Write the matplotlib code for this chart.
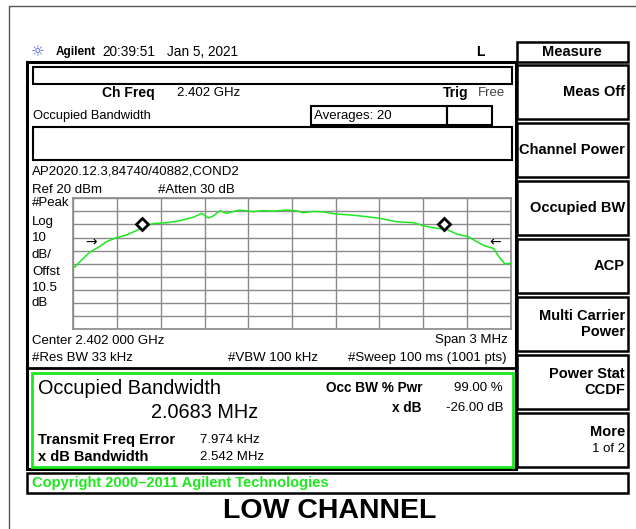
import matplotlib
matplotlib.use("Agg")
import matplotlib.pyplot as plt
from matplotlib.patches import Rectangle

# --------------------------------------------
# Data
# --------------------------------------------
freq_mhz = [-1.500, -1.490, -1.442, -1.386, -1.329, -1.271, -1.202, -1.134, -1.065, -1.024,
            -0.951, -0.860, -0.768, -0.677, -0.619, -0.574, -0.540, -0.494, -0.448, -0.400,
            -0.357, -0.265, -0.200, -0.128, -0.036, 0.030, 0.078, 0.146, 0.215, 0.302,
            0.398, 0.512, 0.604, 0.718, 0.832, 0.905, 0.992, 1.061, 1.130, 1.209,
            1.267, 1.324, 1.381, 1.427, 1.461, 1.500]
level_dbm = [-31.5, -32.5, -27.0, -21.0, -17.5, -13.0, -10.0, -8.0, -4.5, -2.0,
             0.8, 1.3, 3.0, 5.5, 8.5, 5.0, 6.5, 10.5, 8.5, 10.0,
             11.0, 9.8, 10.6, 10.2, 11.0, 10.5, 9.0, 10.0, 9.6, 8.0,
             7.3, 6.0, 4.7, 2.1, 1.4, -1.1, -2.9, -3.7, -7.3, -9.3,
             -13.1, -16.4, -18.2, -25.8, -30.2, -29.5]

obw_marker_mhz = [-1.026, 1.042]
obw_marker_dbm = [0.2, 0.4]
xdb_arrow_mhz = [-1.375, 1.395]
xdb_arrow_dbm = [-14.0, -14.0]

ref_level = 20
db_per_div = 10
span_mhz = 3.0

softkeys = ["Meas Off", "Channel Power", "Occupied BW", "ACP",
            "Multi Carrier\nPower", "Power Stat\nCCDF", "More"]

W, H = 636, 529
INST = ["Liberation Sans", "DejaVu Sans"]
GREEN = "#1de81d"

fig = plt.figure(figsize=(W / 100, H / 100), dpi=100)
bg = fig.add_axes([0, 0, 1, 1])
bg.set_xlim(0, W)
bg.set_ylim(H, 0)
bg.axis("off")


def box(x0, y0, x1, y1, color="black", lw=1.5, z=2):
    bg.add_patch(Rectangle((x0, y0), x1 - x0, y1 - y0, fill=False,
                           edgecolor=color, linewidth=lw, zorder=z))


def txt(x, y, s, size=9.5, ha="left", bold=False, color="black", family=INST, **kw):
    bg.text(x, y, s, fontsize=size, ha=ha, va="center", color=color,
            fontweight="bold" if bold else "normal", family=family, **kw)


# page border
bg.plot([9, 9, W], [H, 6, 6], color="#555555", lw=1)

# header line
txt(38, 52, "\u263c", size=11, ha="center", color="#4a5be0", family=["DejaVu Sans"])
txt(56, 52, "Agilent", size=8.5, bold=True)
txt(102, 52, "20:39:51", size=9.8)
txt(167, 52, "Jan 5, 2021", size=9.8)
txt(480, 52, "L", size=10, ha="center", bold=True)

# main frame
box(27, 62, 516, 469, lw=2.2)
bg.plot([27, 516], [368, 368], color="black", lw=2)
box(33, 67, 512, 84, lw=1.5)
box(33, 127, 512, 160, lw=1.5)
box(311, 106, 447, 125, lw=1.5)
box(447, 106, 492, 125, lw=1.5)

txt(102, 93, "Ch Freq", bold=True, size=10)
txt(177, 93, "2.402 GHz")
txt(443, 93, "Trig", bold=True, size=10)
txt(478, 93, "Free", color="#444444")
txt(33, 116, "Occupied Bandwidth", size=9.3)
txt(314, 116, "Averages: 20")
txt(32, 172, "AP2020.12.3,84740/40882,COND2")
txt(32, 190, "Ref 20 dBm")
txt(158, 190, "#Atten 30 dB")
for yy, s in zip([203, 221.7, 238.3, 255, 271.7, 288.3, 303.3],
                 ["#Peak", "Log", "10", "dB/", "Offst", "10.5", "dB"]):
    txt(32, yy, s)
txt(32, 341, "Center 2.402 000 GHz")
txt(508, 340, "Span 3 MHz", ha="right")
txt(32, 358, "#Res BW 33 kHz")
txt(228, 358, "#VBW 100 kHz")
txt(507, 358, "#Sweep 100 ms (1001 pts)", ha="right")

# results panel
box(32, 373, 513, 467, color=GREEN, lw=2)
txt(38, 389, "Occupied Bandwidth", size=14.3)
txt(205, 413, "2.0683 MHz", size=14.3, ha="center")
txt(422, 388, "Occ BW % Pwr", bold=True, size=9.8, ha="right")
txt(503, 388, "99.00 %", ha="right")
txt(422, 408, "x dB", bold=True, size=9.8, ha="right")
txt(503, 408, "-26.00 dB", ha="right")
txt(38, 440, "Transmit Freq Error", bold=True, size=10.5)
txt(200, 440, "7.974 kHz")
txt(38, 457, "x dB Bandwidth", bold=True, size=10.5)
txt(200, 457, "2.542 MHz")

# copyright bar
box(27, 473, 628, 493, lw=1.8)
txt(32, 483, "Copyright 2000\u20132011 Agilent Technologies", bold=True, size=10.5, color=GREEN)

# softkey column
box(517, 42, 628, 62, lw=1.8)
txt(572, 52, "Measure", bold=True, size=10.5, ha="center")
for i, label in enumerate(softkeys):
    top = 65 + i * 58
    box(517, top, 628, top + 54, lw=1.8)
    if label == "More":
        txt(625, top + 19, "More", bold=True, ha="right", size=10.5)
        txt(625, top + 36, "1 of 2", ha="right")
    else:
        txt(625, top + 27, label, bold=True, ha="right", size=10.5, linespacing=1.2)

txt(330, 511, "LOW CHANNEL", size=20.5, ha="center", bold=True)

# spectrum graticule
gl, gr, gt, gb = 73.3, 510.7, 198.3, 329.3
ax = fig.add_axes([gl / W, 1 - gb / H, (gr - gl) / W, (gb - gt) / H])
ax.set_xlim(-span_mhz / 2, span_mhz / 2)
ax.set_ylim(ref_level - 10 * db_per_div, ref_level)
ax.set_xticks([-span_mhz / 2 + i * span_mhz / 10 for i in range(11)])
ax.set_yticks([ref_level - i * db_per_div for i in range(11)])
ax.grid(True, color="#8a8a8a", lw=1)
ax.tick_params(length=0, labelbottom=False, labelleft=False)
for sp in ax.spines.values():
    sp.set_color("#8a8a8a")
    sp.set_linewidth(1.2)
ax.set_facecolor("white")

ax.plot(freq_mhz, level_dbm, color=GREEN, lw=1.1, zorder=3)
ax.plot(obw_marker_mhz, obw_marker_dbm, ls="none", marker="D", ms=6,
        mfc="white", mec="black", mew=2, zorder=4)
ax.text(xdb_arrow_mhz[0], xdb_arrow_dbm[0], "\u2192", ha="center", va="center",
        fontsize=10, zorder=4)
ax.text(xdb_arrow_mhz[1], xdb_arrow_dbm[1], "\u2190", ha="center", va="center",
        fontsize=10, zorder=4)

fig.savefig("out.png", dpi=100)
